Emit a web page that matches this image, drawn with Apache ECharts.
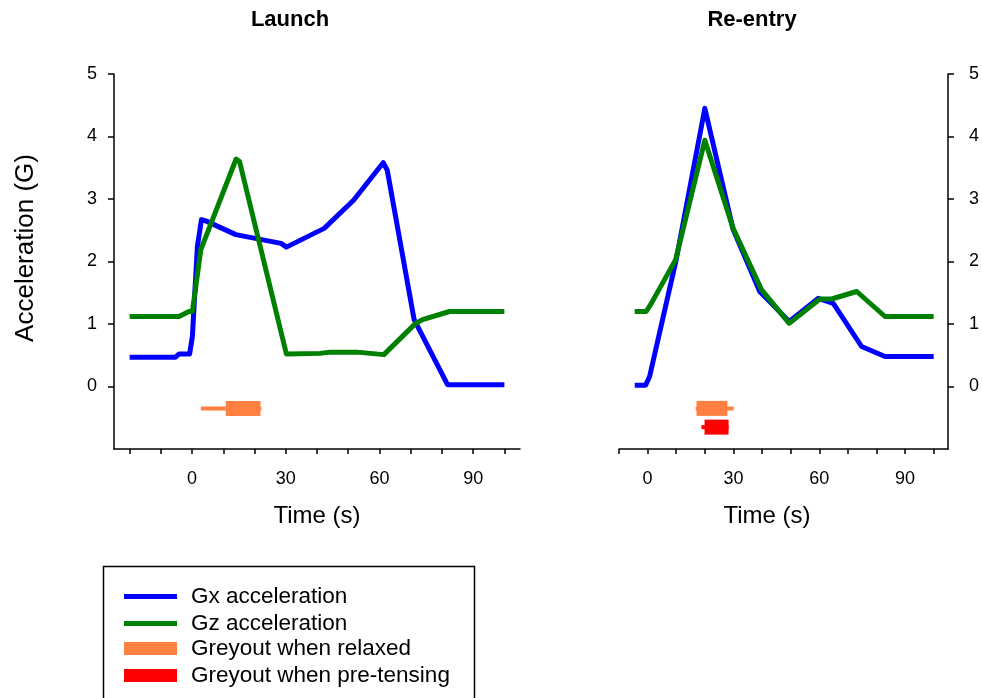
<!DOCTYPE html>
<html><head><meta charset="utf-8">
<script src="https://cdn.jsdelivr.net/npm/echarts@6/dist/echarts.min.js"></script>
<style>html,body{margin:0;padding:0;background:#fff}#c{width:982px;height:698px}</style>
</head><body><div id="c"></div>
<script>
// ---- Data (time in s, acceleration in G) ----
const launchGx = [[-20,0.47],[-5.3,0.47],[-4.2,0.52],[-0.8,0.52],[0.1,0.8],[1.7,2.24],[3,2.67],[4.4,2.65],[14,2.43],[28.5,2.29],[30.2,2.23],[42.3,2.53],[51.7,2.98],[61.2,3.58],[62.5,3.46],[71.1,1.07],[81.8,0.03],[100,0.03]];
const launchGz = [[-20,1.12],[-4.2,1.12],[-1,1.2],[0.1,1.2],[2.8,2.19],[14.1,3.64],[15.2,3.6],[30.2,0.52],[41,0.53],[44.2,0.55],[52.8,0.55],[61.4,0.51],[71.6,1.01],[73.8,1.07],[82.4,1.2],[100,1.2]];
const reentryGx = [[-4.5,0.02],[-0.7,0.02],[0.7,0.16],[10,2.03],[20,4.45],[29.9,2.51],[39.2,1.52],[49.5,1.04],[59.6,1.41],[64.9,1.33],[74.8,0.64],[83,0.48],[100,0.48]];
const reentryGz = [[-4.5,1.2],[-0.5,1.2],[1.3,1.33],[9.8,2.03],[20,3.94],[29.9,2.53],[39.8,1.55],[49.5,1.01],[60.2,1.40],[64.3,1.40],[73.1,1.52],[83,1.12],[100,1.12]];
// greyout intervals: [whisker start, box start, box end, whisker end, row level]
const launchRelaxed = [[2.8, 10.8, 21.9, 22.2, -0.35]];
const reentryRelaxed = [[16.8, 17.1, 27.9, 30.1, -0.35]];
const reentryPretense = [[18.8, 19.9, 28.3, 28.3, -0.65]];
const xTicksLaunch = [-20,-10,0,10,20,30,40,50,60,70,80,90,100];
const xTicksReentry = [-10,0,10,20,30,40,50,60,70,80,90,100];
const xLabels = [0,30,60,90];
const yTicks = [0,1,2,3,4,5];

const FONT = "'Liberation Sans', Arial, sans-serif";
const chart = echarts.init(document.getElementById('c'), null, {renderer:'canvas'});

function renderGrey(params, api){
  const y = api.value(4);
  const p1 = api.coord([api.value(0), y]);
  const p2 = api.coord([api.value(1), y]);
  const p3 = api.coord([api.value(2), y]);
  const p4 = api.coord([api.value(3), y]);
  const color = api.visual('color');
  return {type:'group', children:[
    {type:'rect', shape:{x:p1[0], y:p1[1]-2, width:p4[0]-p1[0], height:4}, style:{fill:color}},
    {type:'rect', shape:{x:p2[0], y:p2[1]-7.5, width:p3[0]-p2[0], height:15}, style:{fill:color}}
  ]};
}

const axisLine = {show:true, onZero:false, lineStyle:{color:'#000', width:1.5}};
function xAxis(gridIndex, min, ticks){
  return {type:'value', gridIndex, min, max:105, splitLine:{show:false},
    axisLine, axisTick:{show:true, length:5, lineStyle:{color:'#000', width:1.5}, customValues:ticks},
    axisLabel:{color:'#000', fontSize:18, fontFamily:FONT, margin:21, customValues:xLabels}};
}
function yAxis(gridIndex, position, margin){
  return {type:'value', gridIndex, position, min:-1, max:5, splitLine:{show:false},
    axisLine, axisTick:{show:true, length:6, lineStyle:{color:'#000', width:1.5}, customValues:yTicks},
    axisLabel:{color:'#000', fontSize:18, fontFamily:FONT, margin, customValues:yTicks}};
}
const lineSeries = (name, data, color, idx) => ({
  name, type:'line', data, xAxisIndex:idx, yAxisIndex:idx, showSymbol:false, symbol:'none',
  smooth:false, animation:false, color,
  lineStyle:{color, width:5, join:'round', cap:'butt'}
});
const greySeries = (name, data, color, idx) => ({
  name, type:'custom', data, xAxisIndex:idx, yAxisIndex:idx, renderItem:renderGrey,
  color, itemStyle:{color}, encode:{x:[0,1,2,3], y:4}, animation:false
});

const option = {
  animation:false,
  backgroundColor:'#fff',
  textStyle:{fontFamily:FONT},
  grid:[
    {left:114, top:74, width:406, height:375},
    {left:619, top:74, width:330, height:375}
  ],
  xAxis:[xAxis(0,-25,xTicksLaunch), xAxis(1,-10,xTicksReentry)],
  yAxis:[yAxis(0,'left',17), yAxis(1,'right',21)],
  legend:[
    {orient:'vertical', left:119, top:580, itemWidth:53, itemHeight:5, itemGap:4, icon:'rect',
     textStyle:{fontSize:22.5, fontFamily:FONT, color:'#000', padding:[0,0,0,9]},
     data:['Gx acceleration','Gz acceleration'], selectedMode:false},
    {orient:'vertical', left:119, top:632, itemWidth:53, itemHeight:13, itemGap:4, icon:'rect',
     textStyle:{fontSize:22.5, fontFamily:FONT, color:'#000', padding:[0,0,0,9]},
     data:['Greyout when relaxed','Greyout when pre-tensing'], selectedMode:false}
  ],
  graphic:[
    {type:'rect', left:101, top:564, shape:{width:371, height:150}, style:{fill:'none', stroke:'#000', lineWidth:1.5}, z:-1},
    {type:'text', x:290, y:20, style:{text:'Launch', font:'bold 22px '+FONT, fill:'#000', align:'center', verticalAlign:'middle'}},
    {type:'text', x:752, y:20, style:{text:'Re-entry', font:'bold 22px '+FONT, fill:'#000', align:'center', verticalAlign:'middle'}},
    {type:'text', x:317, y:516, style:{text:'Time (s)', font:'24px '+FONT, fill:'#000', align:'center', verticalAlign:'middle'}},
    {type:'text', x:767, y:516, style:{text:'Time (s)', font:'24px '+FONT, fill:'#000', align:'center', verticalAlign:'middle'}},
    {type:'text', x:26, y:248, rotation:Math.PI/2, style:{text:'Acceleration (G)', font:'26px '+FONT, fill:'#000', align:'center', verticalAlign:'middle'}}
  ],
  series:[
    lineSeries('Gx acceleration', launchGx, '#0000ff', 0),
    lineSeries('Gz acceleration', launchGz, '#008000', 0),
    lineSeries('Gx acceleration', reentryGx, '#0000ff', 1),
    lineSeries('Gz acceleration', reentryGz, '#008000', 1),
    greySeries('Greyout when relaxed', launchRelaxed, '#ff8040', 0),
    greySeries('Greyout when relaxed', reentryRelaxed, '#ff8040', 1),
    greySeries('Greyout when pre-tensing', reentryPretense, '#ff0000', 1)
  ]
};
chart.setOption(option);
</script>
</body></html>
